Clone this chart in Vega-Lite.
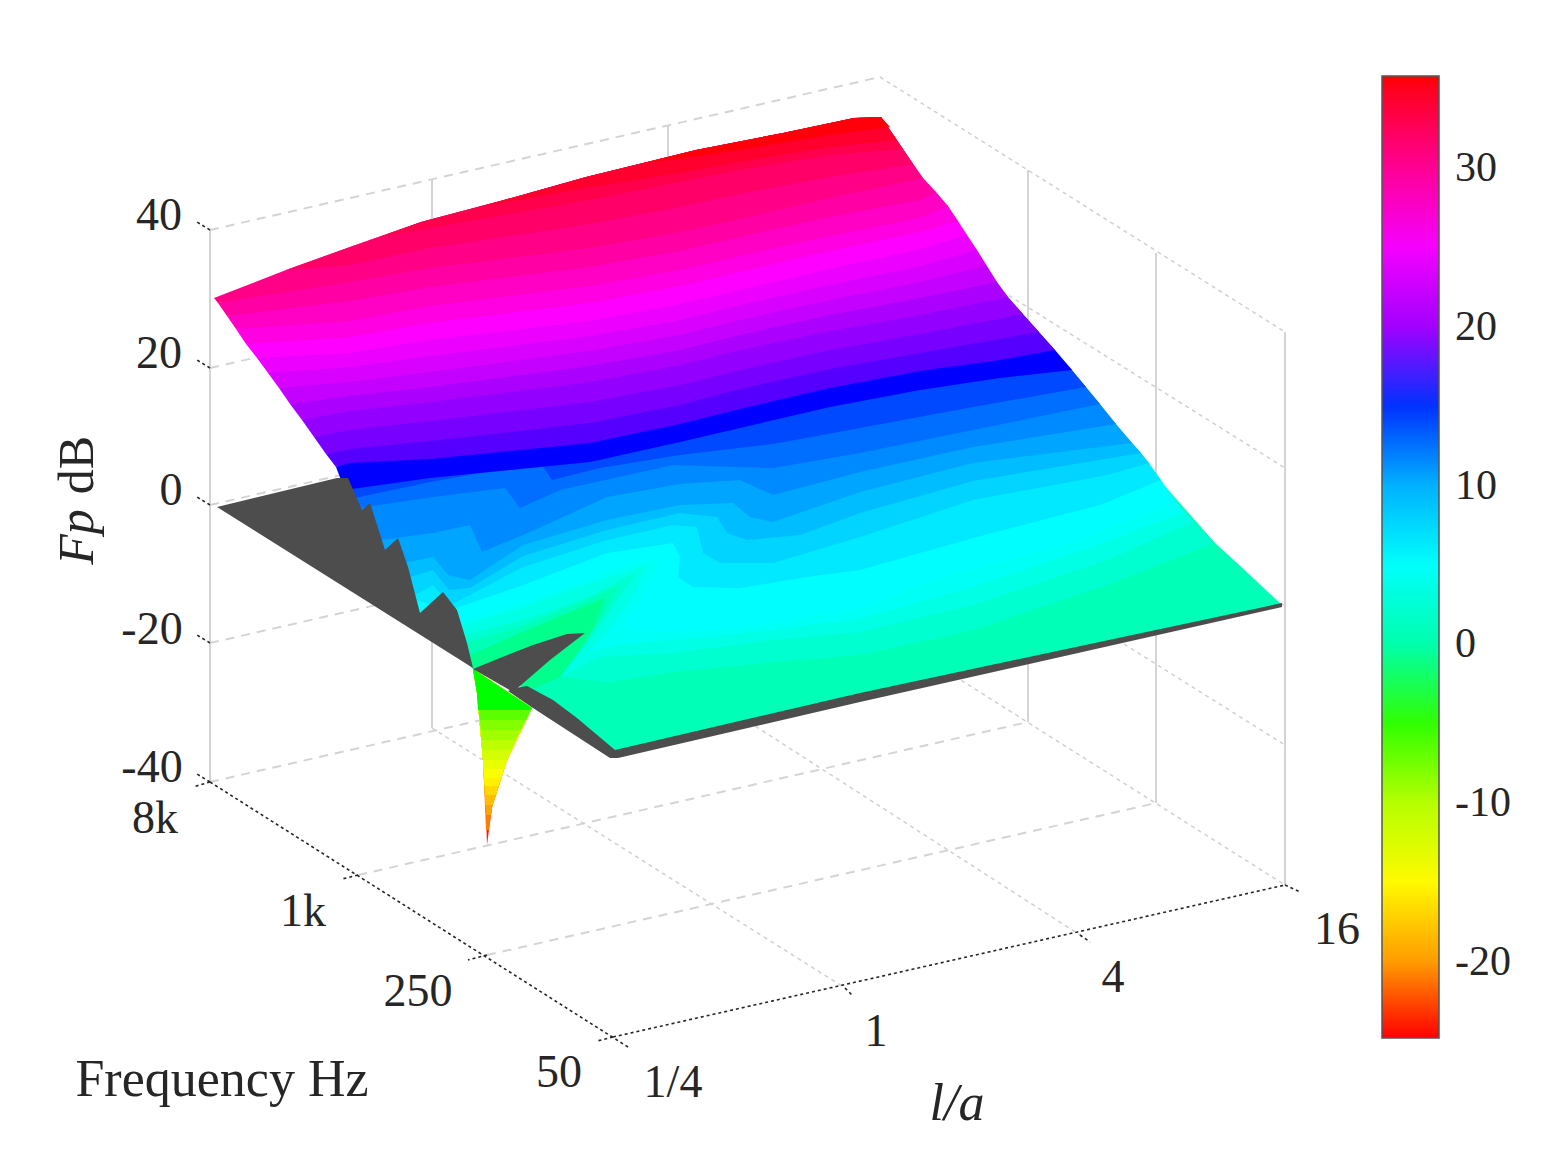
{"$schema":"https://vega.github.io/schema/vega-lite/v6.json","width":1545,"height":1161,"padding":0,"autosize":{"type":"fit","contains":"padding"},"background":"white","config":{"view":{"stroke":null}},
"encoding":{"x":{"field":"x","type":"quantitative","scale":{"domain":[0,1545],"nice":false,"zero":false},"axis":null},"y":{"field":"y","type":"quantitative","scale":{"domain":[1161,0],"nice":false,"zero":false},"axis":null}},
"layer":[
{"data":{"values":[{"x":210,"y":230,"x2":210,"y2":782},{"x":432,"y":180,"x2":432,"y2":728},{"x":668,"y":125,"x2":668,"y2":670},{"x":1028,"y":170,"x2":1028,"y2":722},{"x":1156,"y":253,"x2":1156,"y2":803},{"x":1285,"y":332,"x2":1285,"y2":885}]},"mark":{"type":"rule","stroke":"#d4d4d4","strokeWidth":2},"encoding":{"x2":{"field":"x2"},"y2":{"field":"y2"}}},
{"data":{"values":[{"x":210,"y":230,"x2":880,"y2":77},{"x":210,"y":368,"x2":880,"y2":215},{"x":210,"y":505,"x2":880,"y2":352},{"x":210,"y":643,"x2":880,"y2":490},{"x":210,"y":782,"x2":880,"y2":629},{"x":358,"y":875,"x2":1028,"y2":722},{"x":487,"y":955,"x2":1156,"y2":803}]},"mark":{"type":"rule","stroke":"#d4d4d4","strokeWidth":2,"strokeDash":[9,7]},"encoding":{"x2":{"field":"x2"},"y2":{"field":"y2"}}},
{"data":{"values":[{"x":880,"y":77,"x2":1285,"y2":332},{"x":880,"y":215,"x2":1285,"y2":468},{"x":880,"y":353,"x2":1285,"y2":606},{"x":880,"y":491,"x2":1285,"y2":745},{"x":880,"y":629,"x2":1285,"y2":885},{"x":432,"y":728,"x2":845,"y2":988},{"x":668,"y":670,"x2":1080,"y2":935}]},"mark":{"type":"rule","stroke":"#d0d0d0","strokeWidth":1.5,"strokeDash":[4,4]},"encoding":{"x2":{"field":"x2"},"y2":{"field":"y2"}}},
{"data":{"values":[{"x":210,"y":782,"x2":628,"y2":1047},{"x":613,"y":1037,"x2":1285,"y2":885},{"x":210,"y":782,"x2":193,"y2":787},{"x":358,"y":875,"x2":342,"y2":879},{"x":487,"y":955,"x2":468,"y2":960},{"x":613,"y":1037,"x2":597,"y2":1041},{"x":845,"y":988,"x2":853,"y2":996},{"x":1080,"y":935,"x2":1090,"y2":942},{"x":1285,"y":885,"x2":1300,"y2":892},{"x":210,"y":230,"x2":197,"y2":222},{"x":210,"y":368,"x2":197,"y2":360},{"x":210,"y":505,"x2":197,"y2":497},{"x":210,"y":643,"x2":197,"y2":635},{"x":210,"y":782,"x2":197,"y2":774}]},"mark":{"type":"rule","stroke":"#262626","strokeWidth":1.6,"strokeDash":[3,3]},"encoding":{"x2":{"field":"x2"},"y2":{"field":"y2"}}},
{"data":{"values":[
{"Fp":-24.6,"x":473,"y":669},{"Fp":-24.6,"x":532,"y":708},{"Fp":-24.6,"x":507,"y":760},{"Fp":-24.6,"x":492,"y":807},{"Fp":-24.6,"x":487,"y":845},{"Fp":-24.6,"x":486,"y":815},{"Fp":-24.6,"x":483,"y":760},{"Fp":-24.6,"x":477,"y":693},
{"Fp":-21.4,"x":473,"y":669},{"Fp":-21.4,"x":532,"y":708},{"Fp":-21.4,"x":507,"y":760},{"Fp":-21.4,"x":492,"y":807},{"Fp":-21.4,"x":489,"y":830},{"Fp":-21.4,"x":486,"y":830},{"Fp":-21.4,"x":483,"y":760},{"Fp":-21.4,"x":477,"y":693},
{"Fp":-19.6,"x":473,"y":669},{"Fp":-19.6,"x":532,"y":708},{"Fp":-19.6,"x":507,"y":760},{"Fp":-19.6,"x":492,"y":807},{"Fp":-19.6,"x":491,"y":815},{"Fp":-19.6,"x":486,"y":815},{"Fp":-19.6,"x":483,"y":760},{"Fp":-19.6,"x":477,"y":693},
{"Fp":-18.2,"x":473,"y":669},{"Fp":-18.2,"x":532,"y":708},{"Fp":-18.2,"x":507,"y":760},{"Fp":-18.2,"x":493,"y":805},{"Fp":-18.2,"x":485.5,"y":805},{"Fp":-18.2,"x":483,"y":760},{"Fp":-18.2,"x":477,"y":693},
{"Fp":-16.8,"x":473,"y":669},{"Fp":-16.8,"x":532,"y":708},{"Fp":-16.8,"x":507,"y":760},{"Fp":-16.8,"x":496,"y":795},{"Fp":-16.8,"x":485,"y":795},{"Fp":-16.8,"x":483,"y":760},{"Fp":-16.8,"x":477,"y":693},
{"Fp":-15.6,"x":473,"y":669},{"Fp":-15.6,"x":532,"y":708},{"Fp":-15.6,"x":507,"y":760},{"Fp":-15.6,"x":498.5,"y":786},{"Fp":-15.6,"x":484.5,"y":786},{"Fp":-15.6,"x":483,"y":760},{"Fp":-15.6,"x":477,"y":693},
{"Fp":-14.3,"x":473,"y":669},{"Fp":-14.3,"x":532,"y":708},{"Fp":-14.3,"x":507,"y":760},{"Fp":-14.3,"x":501,"y":778},{"Fp":-14.3,"x":484,"y":778},{"Fp":-14.3,"x":483,"y":760},{"Fp":-14.3,"x":477,"y":693},
{"Fp":-13.1,"x":473,"y":669},{"Fp":-13.1,"x":532,"y":708},{"Fp":-13.1,"x":507,"y":760},{"Fp":-13.1,"x":504,"y":769},{"Fp":-13.1,"x":483.5,"y":769},{"Fp":-13.1,"x":483,"y":760},{"Fp":-13.1,"x":477,"y":693},
{"Fp":-11.7,"x":473,"y":669},{"Fp":-11.7,"x":532,"y":708},{"Fp":-11.7,"x":507,"y":760},{"Fp":-11.7,"x":483,"y":760},{"Fp":-11.7,"x":477,"y":693},
{"Fp":-10.3,"x":473,"y":669},{"Fp":-10.3,"x":532,"y":708},{"Fp":-10.3,"x":511,"y":750},{"Fp":-10.3,"x":482.5,"y":750},{"Fp":-10.3,"x":477,"y":693},
{"Fp":-8.9,"x":473,"y":669},{"Fp":-8.9,"x":532,"y":708},{"Fp":-8.9,"x":515,"y":740},{"Fp":-8.9,"x":482,"y":740},{"Fp":-8.9,"x":477,"y":693},
{"Fp":-7.5,"x":473,"y":669},{"Fp":-7.5,"x":532,"y":708},{"Fp":-7.5,"x":521,"y":730},{"Fp":-7.5,"x":481,"y":730},{"Fp":-7.5,"x":477,"y":693},
{"Fp":-6,"x":473,"y":669},{"Fp":-6,"x":532,"y":708},{"Fp":-6,"x":526,"y":720},{"Fp":-6,"x":480,"y":720},{"Fp":-6,"x":477,"y":693},
{"Fp":-4.6,"x":473,"y":669},{"Fp":-4.6,"x":532,"y":708},{"Fp":-4.6,"x":530,"y":710},{"Fp":-4.6,"x":478,"y":710},{"Fp":-4.6,"x":477,"y":693},
{"Fp":-1.25,"x":400,"y":600},{"Fp":-1.25,"x":473,"y":669},{"Fp":-1.25,"x":530,"y":690},{"Fp":-1.25,"x":565,"y":680},{"Fp":-1.25,"x":620,"y":590},{"Fp":-1.25,"x":500,"y":560},
{"Fp":0.6,"x":430,"y":640},{"Fp":0.6,"x":470,"y":655},{"Fp":0.6,"x":520,"y":633},{"Fp":0.6,"x":570,"y":612},{"Fp":0.6,"x":605,"y":598},{"Fp":0.6,"x":595,"y":625},{"Fp":0.6,"x":580,"y":650},{"Fp":0.6,"x":565,"y":675},{"Fp":0.6,"x":530,"y":690},{"Fp":0.6,"x":615,"y":753},{"Fp":0.6,"x":1282,"y":605},{"Fp":0.6,"x":1237,"y":563},{"Fp":0.6,"x":1215,"y":543},{"Fp":0.6,"x":860,"y":140},{"Fp":0.6,"x":341,"y":480},{"Fp":0.6,"x":375,"y":550},
{"Fp":1.9,"x":458,"y":645},{"Fp":1.9,"x":525,"y":625},{"Fp":1.9,"x":575,"y":605},{"Fp":1.9,"x":620,"y":585},{"Fp":1.9,"x":605,"y":612},{"Fp":1.9,"x":590,"y":637},{"Fp":1.9,"x":560,"y":677},{"Fp":1.9,"x":610,"y":682},{"Fp":1.9,"x":673,"y":672},{"Fp":1.9,"x":773,"y":662},{"Fp":1.9,"x":860,"y":655},{"Fp":1.9,"x":973,"y":630},{"Fp":1.9,"x":1107,"y":585},{"Fp":1.9,"x":1215,"y":543},{"Fp":1.9,"x":1193,"y":522},{"Fp":1.9,"x":860,"y":140},{"Fp":1.9,"x":341,"y":480},{"Fp":1.9,"x":375,"y":550},{"Fp":1.9,"x":415,"y":620},
{"Fp":3.1,"x":462,"y":636},{"Fp":3.1,"x":540,"y":615},{"Fp":3.1,"x":590,"y":596},{"Fp":3.1,"x":637,"y":572},{"Fp":3.1,"x":613,"y":607},{"Fp":3.1,"x":597,"y":630},{"Fp":3.1,"x":560,"y":677},{"Fp":3.1,"x":600,"y":657},{"Fp":3.1,"x":673,"y":653},{"Fp":3.1,"x":773,"y":640},{"Fp":3.1,"x":860,"y":632},{"Fp":3.1,"x":973,"y":605},{"Fp":3.1,"x":1107,"y":560},{"Fp":3.1,"x":1193,"y":522},{"Fp":3.1,"x":1185,"y":512},{"Fp":3.1,"x":860,"y":140},{"Fp":3.1,"x":341,"y":480},{"Fp":3.1,"x":375,"y":550},{"Fp":3.1,"x":415,"y":620},
{"Fp":4.4,"x":460,"y":627},{"Fp":4.4,"x":530,"y":605},{"Fp":4.4,"x":585,"y":585},{"Fp":4.4,"x":648,"y":565},{"Fp":4.4,"x":630,"y":600},{"Fp":4.4,"x":612,"y":625},{"Fp":4.4,"x":590,"y":652},{"Fp":4.4,"x":620,"y":645},{"Fp":4.4,"x":740,"y":634},{"Fp":4.4,"x":860,"y":619},{"Fp":4.4,"x":973,"y":587},{"Fp":4.4,"x":1090,"y":548},{"Fp":4.4,"x":1185,"y":512},{"Fp":4.4,"x":1176,"y":502},{"Fp":4.4,"x":860,"y":140},{"Fp":4.4,"x":341,"y":480},{"Fp":4.4,"x":375,"y":550},{"Fp":4.4,"x":415,"y":620},
{"Fp":5.6,"x":458,"y":622},{"Fp":5.6,"x":523,"y":602},{"Fp":5.6,"x":573,"y":585},{"Fp":5.6,"x":635,"y":562},{"Fp":5.6,"x":660,"y":560},{"Fp":5.6,"x":648,"y":590},{"Fp":5.6,"x":628,"y":618},{"Fp":5.6,"x":628,"y":628},{"Fp":5.6,"x":660,"y":632},{"Fp":5.6,"x":740,"y":628},{"Fp":5.6,"x":860,"y":608},{"Fp":5.6,"x":940,"y":578},{"Fp":5.6,"x":1073,"y":542},{"Fp":5.6,"x":1176,"y":502},{"Fp":5.6,"x":1161,"y":480},{"Fp":5.6,"x":860,"y":140},{"Fp":5.6,"x":341,"y":480},{"Fp":5.6,"x":375,"y":550},{"Fp":5.6,"x":415,"y":620},
{"Fp":6.9,"x":450,"y":610},{"Fp":6.9,"x":523,"y":585},{"Fp":6.9,"x":607,"y":553},{"Fp":6.9,"x":673,"y":543},{"Fp":6.9,"x":680,"y":557},{"Fp":6.9,"x":678,"y":577},{"Fp":6.9,"x":693,"y":587},{"Fp":6.9,"x":740,"y":588},{"Fp":6.9,"x":807,"y":577},{"Fp":6.9,"x":860,"y":570},{"Fp":6.9,"x":973,"y":538},{"Fp":6.9,"x":1100,"y":505},{"Fp":6.9,"x":1161,"y":480},{"Fp":6.9,"x":1149,"y":463},{"Fp":6.9,"x":860,"y":140},{"Fp":6.9,"x":341,"y":480},{"Fp":6.9,"x":375,"y":550},{"Fp":6.9,"x":415,"y":600},
{"Fp":8.1,"x":405,"y":600},{"Fp":8.1,"x":433,"y":585},{"Fp":8.1,"x":450,"y":605},{"Fp":8.1,"x":470,"y":595},{"Fp":8.1,"x":523,"y":567},{"Fp":8.1,"x":607,"y":540},{"Fp":8.1,"x":673,"y":525},{"Fp":8.1,"x":697,"y":527},{"Fp":8.1,"x":703,"y":553},{"Fp":8.1,"x":720,"y":563},{"Fp":8.1,"x":773,"y":563},{"Fp":8.1,"x":860,"y":537},{"Fp":8.1,"x":973,"y":500},{"Fp":8.1,"x":1107,"y":475},{"Fp":8.1,"x":1149,"y":463},{"Fp":8.1,"x":1141,"y":453},{"Fp":8.1,"x":860,"y":140},{"Fp":8.1,"x":341,"y":480},{"Fp":8.1,"x":375,"y":550},
{"Fp":9.4,"x":400,"y":580},{"Fp":9.4,"x":433,"y":570},{"Fp":9.4,"x":449,"y":590},{"Fp":9.4,"x":470,"y":588},{"Fp":9.4,"x":523,"y":556},{"Fp":9.4,"x":607,"y":530},{"Fp":9.4,"x":680,"y":513},{"Fp":9.4,"x":717,"y":517},{"Fp":9.4,"x":727,"y":533},{"Fp":9.4,"x":747,"y":540},{"Fp":9.4,"x":800,"y":535},{"Fp":9.4,"x":860,"y":513},{"Fp":9.4,"x":973,"y":481},{"Fp":9.4,"x":1141,"y":453},{"Fp":9.4,"x":1132,"y":443},{"Fp":9.4,"x":860,"y":140},{"Fp":9.4,"x":341,"y":480},{"Fp":9.4,"x":375,"y":550},
{"Fp":10.6,"x":395,"y":565},{"Fp":10.6,"x":433,"y":557},{"Fp":10.6,"x":448,"y":575},{"Fp":10.6,"x":470,"y":580},{"Fp":10.6,"x":523,"y":545},{"Fp":10.6,"x":607,"y":520},{"Fp":10.6,"x":680,"y":505},{"Fp":10.6,"x":733,"y":503},{"Fp":10.6,"x":750,"y":517},{"Fp":10.6,"x":773,"y":522},{"Fp":10.6,"x":860,"y":492},{"Fp":10.6,"x":973,"y":463},{"Fp":10.6,"x":1132,"y":443},{"Fp":10.6,"x":1116,"y":424},{"Fp":10.6,"x":860,"y":140},{"Fp":10.6,"x":341,"y":480},{"Fp":10.6,"x":375,"y":550},
{"Fp":11.9,"x":380,"y":540},{"Fp":11.9,"x":433,"y":533},{"Fp":11.9,"x":470,"y":525},{"Fp":11.9,"x":482,"y":552},{"Fp":11.9,"x":530,"y":532},{"Fp":11.9,"x":607,"y":497},{"Fp":11.9,"x":680,"y":484},{"Fp":11.9,"x":740,"y":480},{"Fp":11.9,"x":773,"y":495},{"Fp":11.9,"x":860,"y":472},{"Fp":11.9,"x":973,"y":447},{"Fp":11.9,"x":1116,"y":424},{"Fp":11.9,"x":1100,"y":404},{"Fp":11.9,"x":860,"y":140},{"Fp":11.9,"x":341,"y":480},
{"Fp":13.1,"x":345,"y":510},{"Fp":13.1,"x":433,"y":497},{"Fp":13.1,"x":505,"y":488},{"Fp":13.1,"x":520,"y":508},{"Fp":13.1,"x":560,"y":490},{"Fp":13.1,"x":673,"y":465},{"Fp":13.1,"x":773,"y":468},{"Fp":13.1,"x":860,"y":453},{"Fp":13.1,"x":973,"y":430},{"Fp":13.1,"x":1100,"y":404},{"Fp":13.1,"x":1086,"y":387},{"Fp":13.1,"x":860,"y":140},{"Fp":13.1,"x":341,"y":480},
{"Fp":14.4,"x":345,"y":500},{"Fp":14.4,"x":430,"y":482},{"Fp":14.4,"x":540,"y":462},{"Fp":14.4,"x":552,"y":480},{"Fp":14.4,"x":600,"y":468},{"Fp":14.4,"x":680,"y":455},{"Fp":14.4,"x":773,"y":444},{"Fp":14.4,"x":860,"y":428},{"Fp":14.4,"x":973,"y":407},{"Fp":14.4,"x":1086,"y":387},{"Fp":14.4,"x":1072,"y":370},{"Fp":14.4,"x":860,"y":140},{"Fp":14.4,"x":341,"y":480},
{"Fp":15.6,"x":345,"y":490},{"Fp":15.6,"x":430,"y":478},{"Fp":15.6,"x":590,"y":462},{"Fp":15.6,"x":680,"y":442},{"Fp":15.6,"x":740,"y":428},{"Fp":15.6,"x":830,"y":407},{"Fp":15.6,"x":920,"y":390},{"Fp":15.6,"x":1000,"y":378},{"Fp":15.6,"x":1072,"y":370},{"Fp":15.6,"x":1055,"y":350},{"Fp":15.6,"x":860,"y":140},{"Fp":15.6,"x":336,"y":467},{"Fp":15.6,"x":341,"y":480},
{"Fp":16.9,"x":336,"y":467},{"Fp":16.9,"x":350,"y":463},{"Fp":16.9,"x":430,"y":459},{"Fp":16.9,"x":590,"y":443},{"Fp":16.9,"x":680,"y":424},{"Fp":16.9,"x":740,"y":409},{"Fp":16.9,"x":830,"y":388},{"Fp":16.9,"x":920,"y":371},{"Fp":16.9,"x":1000,"y":360},{"Fp":16.9,"x":1055,"y":350},{"Fp":16.9,"x":1039,"y":332},{"Fp":16.9,"x":860,"y":140},{"Fp":16.9,"x":326,"y":454},
{"Fp":18.1,"x":326,"y":454},{"Fp":18.1,"x":350,"y":449},{"Fp":18.1,"x":430,"y":441},{"Fp":18.1,"x":590,"y":423},{"Fp":18.1,"x":680,"y":405},{"Fp":18.1,"x":740,"y":389},{"Fp":18.1,"x":830,"y":369},{"Fp":18.1,"x":920,"y":353},{"Fp":18.1,"x":1039,"y":332},{"Fp":18.1,"x":1023,"y":314},{"Fp":18.1,"x":860,"y":140},{"Fp":18.1,"x":314,"y":437},
{"Fp":19.4,"x":314,"y":437},{"Fp":19.4,"x":350,"y":430},{"Fp":19.4,"x":430,"y":421},{"Fp":19.4,"x":590,"y":402},{"Fp":19.4,"x":680,"y":385},{"Fp":19.4,"x":740,"y":370},{"Fp":19.4,"x":830,"y":350},{"Fp":19.4,"x":920,"y":334},{"Fp":19.4,"x":1023,"y":314},{"Fp":19.4,"x":1008,"y":297},{"Fp":19.4,"x":860,"y":140},{"Fp":19.4,"x":302,"y":420},
{"Fp":20.6,"x":302,"y":420},{"Fp":20.6,"x":350,"y":411},{"Fp":20.6,"x":430,"y":402},{"Fp":20.6,"x":590,"y":382},{"Fp":20.6,"x":680,"y":365},{"Fp":20.6,"x":740,"y":350},{"Fp":20.6,"x":830,"y":331},{"Fp":20.6,"x":920,"y":315},{"Fp":20.6,"x":1008,"y":297},{"Fp":20.6,"x":997,"y":282},{"Fp":20.6,"x":860,"y":140},{"Fp":20.6,"x":290,"y":404},
{"Fp":21.9,"x":290,"y":404},{"Fp":21.9,"x":350,"y":396},{"Fp":21.9,"x":430,"y":387},{"Fp":21.9,"x":590,"y":366},{"Fp":21.9,"x":680,"y":350},{"Fp":21.9,"x":740,"y":335},{"Fp":21.9,"x":830,"y":315},{"Fp":21.9,"x":920,"y":298},{"Fp":21.9,"x":997,"y":282},{"Fp":21.9,"x":987,"y":266},{"Fp":21.9,"x":860,"y":140},{"Fp":21.9,"x":279,"y":388},
{"Fp":23.1,"x":279,"y":388},{"Fp":23.1,"x":350,"y":382},{"Fp":23.1,"x":430,"y":372},{"Fp":23.1,"x":590,"y":351},{"Fp":23.1,"x":680,"y":335},{"Fp":23.1,"x":740,"y":320},{"Fp":23.1,"x":830,"y":300},{"Fp":23.1,"x":920,"y":282},{"Fp":23.1,"x":987,"y":266},{"Fp":23.1,"x":977,"y":250},{"Fp":23.1,"x":860,"y":140},{"Fp":23.1,"x":268,"y":373},
{"Fp":24.4,"x":268,"y":373},{"Fp":24.4,"x":350,"y":367},{"Fp":24.4,"x":430,"y":356},{"Fp":24.4,"x":590,"y":336},{"Fp":24.4,"x":680,"y":320},{"Fp":24.4,"x":740,"y":305},{"Fp":24.4,"x":830,"y":285},{"Fp":24.4,"x":920,"y":266},{"Fp":24.4,"x":977,"y":250},{"Fp":24.4,"x":967,"y":235},{"Fp":24.4,"x":860,"y":140},{"Fp":24.4,"x":257,"y":358},
{"Fp":25.6,"x":257,"y":358},{"Fp":25.6,"x":350,"y":353},{"Fp":25.6,"x":430,"y":340},{"Fp":25.6,"x":590,"y":321},{"Fp":25.6,"x":680,"y":304},{"Fp":25.6,"x":740,"y":290},{"Fp":25.6,"x":830,"y":269},{"Fp":25.6,"x":920,"y":249},{"Fp":25.6,"x":967,"y":235},{"Fp":25.6,"x":958,"y":221},{"Fp":25.6,"x":860,"y":140},{"Fp":25.6,"x":246,"y":344},
{"Fp":26.9,"x":246,"y":344},{"Fp":26.9,"x":350,"y":337},{"Fp":26.9,"x":430,"y":323},{"Fp":26.9,"x":590,"y":303},{"Fp":26.9,"x":680,"y":286},{"Fp":26.9,"x":740,"y":272},{"Fp":26.9,"x":830,"y":251},{"Fp":26.9,"x":920,"y":232},{"Fp":26.9,"x":958,"y":221},{"Fp":26.9,"x":948,"y":206},{"Fp":26.9,"x":860,"y":140},{"Fp":26.9,"x":236,"y":329},
{"Fp":28.1,"x":236,"y":329},{"Fp":28.1,"x":350,"y":321},{"Fp":28.1,"x":430,"y":306},{"Fp":28.1,"x":590,"y":286},{"Fp":28.1,"x":680,"y":270},{"Fp":28.1,"x":740,"y":256},{"Fp":28.1,"x":830,"y":236},{"Fp":28.1,"x":920,"y":218},{"Fp":28.1,"x":948,"y":206},{"Fp":28.1,"x":936,"y":192},{"Fp":28.1,"x":860,"y":140},{"Fp":28.1,"x":227,"y":316},
{"Fp":29.4,"x":227,"y":316},{"Fp":29.4,"x":350,"y":301},{"Fp":29.4,"x":430,"y":287},{"Fp":29.4,"x":590,"y":267},{"Fp":29.4,"x":680,"y":251},{"Fp":29.4,"x":740,"y":237},{"Fp":29.4,"x":830,"y":217},{"Fp":29.4,"x":920,"y":200},{"Fp":29.4,"x":936,"y":192},{"Fp":29.4,"x":923,"y":178},{"Fp":29.4,"x":860,"y":140},{"Fp":29.4,"x":218,"y":303},
{"Fp":30.6,"x":218,"y":303},{"Fp":30.6,"x":350,"y":282},{"Fp":30.6,"x":430,"y":268},{"Fp":30.6,"x":590,"y":248},{"Fp":30.6,"x":680,"y":232},{"Fp":30.6,"x":740,"y":219},{"Fp":30.6,"x":830,"y":198},{"Fp":30.6,"x":923,"y":178},{"Fp":30.6,"x":903,"y":149},{"Fp":30.6,"x":881,"y":117},{"Fp":30.6,"x":854,"y":118},{"Fp":30.6,"x":783,"y":133},{"Fp":30.6,"x":696,"y":150},{"Fp":30.6,"x":586,"y":177},{"Fp":30.6,"x":504,"y":200},{"Fp":30.6,"x":421,"y":222},{"Fp":30.6,"x":350,"y":247},{"Fp":30.6,"x":286,"y":270},{"Fp":30.6,"x":214,"y":298},
{"Fp":31.9,"x":286,"y":270},{"Fp":31.9,"x":350,"y":265},{"Fp":31.9,"x":430,"y":248},{"Fp":31.9,"x":590,"y":224},{"Fp":31.9,"x":680,"y":207},{"Fp":31.9,"x":740,"y":194},{"Fp":31.9,"x":830,"y":177},{"Fp":31.9,"x":913,"y":164},{"Fp":31.9,"x":903,"y":149},{"Fp":31.9,"x":881,"y":117},{"Fp":31.9,"x":854,"y":118},{"Fp":31.9,"x":783,"y":133},{"Fp":31.9,"x":696,"y":150},{"Fp":31.9,"x":586,"y":177},{"Fp":31.9,"x":504,"y":200},{"Fp":31.9,"x":421,"y":222},{"Fp":31.9,"x":350,"y":247},
{"Fp":33.1,"x":380,"y":237},{"Fp":33.1,"x":430,"y":228},{"Fp":33.1,"x":590,"y":200},{"Fp":33.1,"x":680,"y":182},{"Fp":33.1,"x":740,"y":170},{"Fp":33.1,"x":830,"y":155},{"Fp":33.1,"x":903,"y":149},{"Fp":33.1,"x":881,"y":117},{"Fp":33.1,"x":854,"y":118},{"Fp":33.1,"x":783,"y":133},{"Fp":33.1,"x":696,"y":150},{"Fp":33.1,"x":586,"y":177},{"Fp":33.1,"x":504,"y":200},{"Fp":33.1,"x":421,"y":222},
{"Fp":34.4,"x":480,"y":207},{"Fp":34.4,"x":590,"y":187},{"Fp":34.4,"x":680,"y":173},{"Fp":34.4,"x":740,"y":162},{"Fp":34.4,"x":830,"y":147},{"Fp":34.4,"x":897,"y":140},{"Fp":34.4,"x":881,"y":117},{"Fp":34.4,"x":854,"y":118},{"Fp":34.4,"x":783,"y":133},{"Fp":34.4,"x":696,"y":150},{"Fp":34.4,"x":586,"y":177},{"Fp":34.4,"x":504,"y":200},
{"Fp":35.6,"x":640,"y":164},{"Fp":35.6,"x":740,"y":150},{"Fp":35.6,"x":830,"y":135},{"Fp":35.6,"x":890,"y":127},{"Fp":35.6,"x":881,"y":117},{"Fp":35.6,"x":854,"y":118},{"Fp":35.6,"x":783,"y":133},{"Fp":35.6,"x":696,"y":150}
]},"mark":{"type":"line","strokeWidth":0,"interpolate":"linear"},"encoding":{"order":{"value":null},"detail":{"field":"Fp"},"fill":{"field":"Fp","type":"quantitative","scale":{"domain":[-24.8,-14.7,-4.6,5.5,15.6,25.7,35.8],"range":["#ff0000","#ffff00","#00ff00","#00ffff","#0000ff","#ff00ff","#ff0000"]},"legend":{"title":null,"orient":"none","legendX":1382,"legendY":76,"direction":"vertical","gradientLength":962,"gradientThickness":57,"gradientStrokeColor":"#555555","gradientStrokeWidth":1.5,"values":[-20,-10,0,10,20,30],"labelExpr":"''+datum.value","labelFont":"Liberation Serif","labelFontSize":42,"labelColor":"#262626","labelOffset":16,"labelOverlap":false,"labelFlush":false}}}},
{"data":{"values":[
{"part":"a","x":217,"y":507},{"part":"a","x":337,"y":478},{"part":"a","x":348,"y":478},{"part":"a","x":362,"y":510},{"part":"a","x":370,"y":503},{"part":"a","x":385,"y":550},{"part":"a","x":398,"y":538},{"part":"a","x":408,"y":567},{"part":"a","x":420,"y":613},{"part":"a","x":443,"y":592},{"part":"a","x":457,"y":610},{"part":"a","x":467,"y":643},{"part":"a","x":473,"y":668},
{"part":"b","x":473,"y":669},{"part":"b","x":500,"y":658},{"part":"b","x":533,"y":645},{"part":"b","x":567,"y":634},{"part":"b","x":585,"y":633},{"part":"b","x":550,"y":660},{"part":"b","x":513,"y":692},
{"part":"c","x":515,"y":688},{"part":"c","x":527,"y":686},{"part":"c","x":553,"y":700},{"part":"c","x":577,"y":718},{"part":"c","x":615,"y":750},{"part":"c","x":860,"y":693},{"part":"c","x":1282,"y":603},{"part":"c","x":1282,"y":607},{"part":"c","x":860,"y":702},{"part":"c","x":618,"y":758},{"part":"c","x":610,"y":758},{"part":"c","x":533,"y":708},{"part":"c","x":508,"y":691}
]},"mark":{"type":"line","fill":"#4d4d4d","strokeWidth":0},"encoding":{"order":{"value":null},"detail":{"field":"part"}}},
{"data":{"values":[{"x":1428,"y":168,"x2":1439,"y2":168},{"x":1428,"y":327,"x2":1439,"y2":327},{"x":1428,"y":486,"x2":1439,"y2":486},{"x":1428,"y":645,"x2":1439,"y2":645},{"x":1428,"y":803,"x2":1439,"y2":803},{"x":1428,"y":962,"x2":1439,"y2":962}]},"mark":{"type":"rule","stroke":"#333333","strokeWidth":1.5},"encoding":{"x2":{"field":"x2"},"y2":{"field":"y2"}}},
{"data":{"values":[{"t":"40","x":159,"y":216},{"t":"20","x":159,"y":354},{"t":"0","x":171,"y":491},{"t":"-20","x":152,"y":630},{"t":"-40","x":152,"y":768},{"t":"8k","x":155,"y":819},{"t":"1k","x":303,"y":912},{"t":"250","x":418,"y":992},{"t":"50","x":559,"y":1073},{"t":"1/4","x":673,"y":1083},{"t":"1","x":876,"y":1032},{"t":"4","x":1113,"y":978},{"t":"16","x":1337,"y":930}]},"mark":{"type":"text","font":"Liberation Serif","fontSize":46,"fill":"#262626","baseline":"middle","align":"center"},"encoding":{"text":{"field":"t"}}},
{"data":{"values":[{"t":"Frequency Hz","x":222,"y":1080}]},"mark":{"type":"text","font":"Liberation Serif","fontSize":52,"fill":"#262626","baseline":"middle","align":"center"},"encoding":{"text":{"field":"t"}}},
{"data":{"values":[{"t":"l/a","x":957,"y":1104}]},"mark":{"type":"text","font":"Liberation Serif","fontStyle":"italic","fontSize":52,"fill":"#262626","baseline":"middle","align":"center"},"encoding":{"text":{"field":"t"}}},
{"data":{"values":[{"t":"dB","x":78,"y":465}]},"mark":{"type":"text","font":"Liberation Serif","fontSize":50,"fill":"#262626","baseline":"middle","align":"center","angle":270},"encoding":{"text":{"field":"t"}}},
{"data":{"values":[{"t":"Fp","x":78,"y":537}]},"mark":{"type":"text","font":"Liberation Serif","fontStyle":"italic","fontSize":50,"fill":"#262626","baseline":"middle","align":"center","angle":270},"encoding":{"text":{"field":"t"}}}
]}
